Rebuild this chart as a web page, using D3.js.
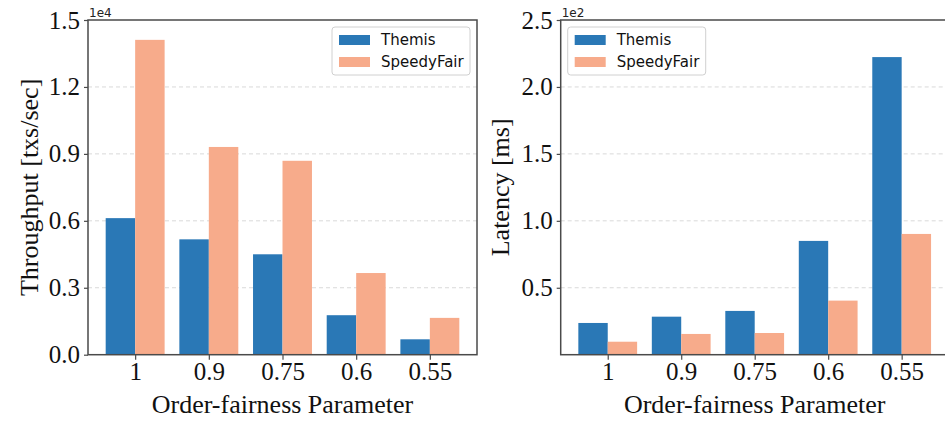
<!DOCTYPE html>
<html>
<head>
<meta charset="utf-8">
<script src="https://cdn.jsdelivr.net/npm/d3@7"></script>
<style>
  body { margin: 0; background: #fff; }
  svg { display: block; }
</style>
</head>
<body>
<div id="chart"></div>
<script>
// Data
const params = ["1", "0.9", "0.75", "0.6", "0.55"];
const seriesNames = ["Themis", "SpeedyFair"];
const colors = ["#2a78b6", "#f7ab8b"];

// throughput in units of 1e4 txs/sec
const throughputThemis = [0.612, 0.517, 0.450, 0.177, 0.069];
const throughputSpeedy = [1.411, 0.931, 0.869, 0.366, 0.165];
const throughputTicks = [0.0, 0.3, 0.6, 0.9, 1.2, 1.5];

// latency in units of 1e2 ms
const latencyThemis = [0.237, 0.284, 0.327, 0.850, 2.223];
const latencySpeedy = [0.097, 0.155, 0.162, 0.404, 0.902];
const latencyTicks = [0.5, 1.0, 1.5, 2.0, 2.5];

const width = 945;
const height = 421;
const svg = d3.select("#chart")
    .append("svg")
    .attr("width", width)
    .attr("height", height);

const serif = "'Liberation Serif', 'Times New Roman', serif";
const sans = "'DejaVu Sans', sans-serif";

function drawPanel(opts) {
    const { left, right, top, bottom, values, ymax, ticks, ylabel, offset, legendSide } = opts;

    // matplotlib-like x limits: bars span -0.4..4.4 plus 5% margins
    const x = d3.scaleLinear().domain([-0.64, params.length - 1 + 0.64]).range([left, right]);
    const y = d3.scaleLinear().domain([0, ymax]).range([bottom, top]);
    const barW = x(0.4) - x(0);

    const g = svg.append("g");

    // grid lines
    g.selectAll(".grid")
        .data(ticks.filter(t => t > 0 && t < ymax))
        .enter()
        .append("line")
        .attr("x1", left)
        .attr("x2", right)
        .attr("y1", d => y(d))
        .attr("y2", d => y(d))
        .attr("stroke", "#d9d9d9")
        .attr("stroke-width", 1)
        .attr("stroke-dasharray", "4,3");

    // bars
    values.forEach((vals, s) => {
        g.selectAll(".bar" + s)
            .data(vals)
            .enter()
            .append("rect")
            .attr("x", (d, i) => s === 0 ? x(i) - barW : x(i))
            .attr("y", d => y(d))
            .attr("width", barW)
            .attr("height", d => y(0) - y(d))
            .attr("fill", colors[s]);
    });

    // frame
    g.append("rect")
        .attr("x", left)
        .attr("y", top)
        .attr("width", right - left)
        .attr("height", bottom - top)
        .attr("fill", "none")
        .attr("stroke", "#4a4a4a")
        .attr("stroke-width", 1.5);

    // y axis
    const yAxis = d3.axisLeft(y)
        .tickValues(ticks)
        .tickFormat(d3.format(".1f"))
        .tickSize(4)
        .tickPadding(4);
    const ya = g.append("g").attr("transform", `translate(${left},0)`).call(yAxis);
    ya.select(".domain").remove();
    ya.selectAll("line").attr("stroke", "#4a4a4a").attr("stroke-width", 1.2);
    ya.selectAll("text")
        .attr("font-family", serif)
        .attr("font-size", "25px")
        .attr("fill", "#111");

    // x axis
    const xAxis = d3.axisBottom(x)
        .tickValues(d3.range(params.length))
        .tickFormat(i => params[i])
        .tickSize(5)
        .tickPadding(3);
    const xa = g.append("g").attr("transform", `translate(0,${bottom})`).call(xAxis);
    xa.select(".domain").remove();
    xa.selectAll("line").attr("stroke", "#4a4a4a").attr("stroke-width", 1.2);
    xa.selectAll("text")
        .attr("font-family", serif)
        .attr("font-size", "25px")
        .attr("fill", "#111");

    // offset text
    g.append("text")
        .attr("x", left + 1)
        .attr("y", top - 3)
        .attr("font-family", sans)
        .attr("font-size", "12px")
        .attr("fill", "#222")
        .text(offset);

    // axis labels
    g.append("text")
        .attr("x", (left + right) / 2)
        .attr("y", 413)
        .attr("text-anchor", "middle")
        .attr("font-family", serif)
        .attr("font-size", "26px")
        .attr("fill", "#111")
        .text("Order-fairness Parameter");

    g.append("text")
        .attr("transform", `translate(${opts.ylabelX},${(top + bottom) / 2}) rotate(-90)`)
        .attr("text-anchor", "middle")
        .attr("font-family", serif)
        .attr("font-size", "26px")
        .attr("fill", "#111")
        .text(ylabel);

    // legend
    const lw = 138, lh = 48;
    const lx = legendSide === "right" ? right - 7 - lw : left + 7;
    const ly = top + 7;
    const leg = g.append("g").attr("transform", `translate(${lx},${ly})`);
    leg.append("rect")
        .attr("width", lw)
        .attr("height", lh)
        .attr("rx", 3)
        .attr("fill", "#fff")
        .attr("fill-opacity", 0.85)
        .attr("stroke", "#d0d0d0")
        .attr("stroke-width", 1);
    seriesNames.forEach((name, s) => {
        leg.append("rect")
            .attr("x", 7)
            .attr("y", 8 + s * 22)
            .attr("width", 31)
            .attr("height", 10)
            .attr("fill", colors[s]);
        leg.append("text")
            .attr("x", 49)
            .attr("y", 18 + s * 22)
            .attr("font-family", sans)
            .attr("font-size", "15px")
            .attr("fill", "#111")
            .text(name);
    });
}

drawPanel({
    left: 88, right: 477, top: 20, bottom: 354.7,
    values: [throughputThemis, throughputSpeedy],
    ymax: 1.5, ticks: throughputTicks,
    ylabel: "Throughput [txs/sec]", ylabelX: 38,
    offset: "1e4", legendSide: "right"
});

drawPanel({
    left: 560.7, right: 948.7, top: 20, bottom: 354.7,
    values: [latencyThemis, latencySpeedy],
    ymax: 2.5, ticks: latencyTicks,
    ylabel: "Latency [ms]", ylabelX: 509,
    offset: "1e2", legendSide: "left"
});
</script>
</body>
</html>
